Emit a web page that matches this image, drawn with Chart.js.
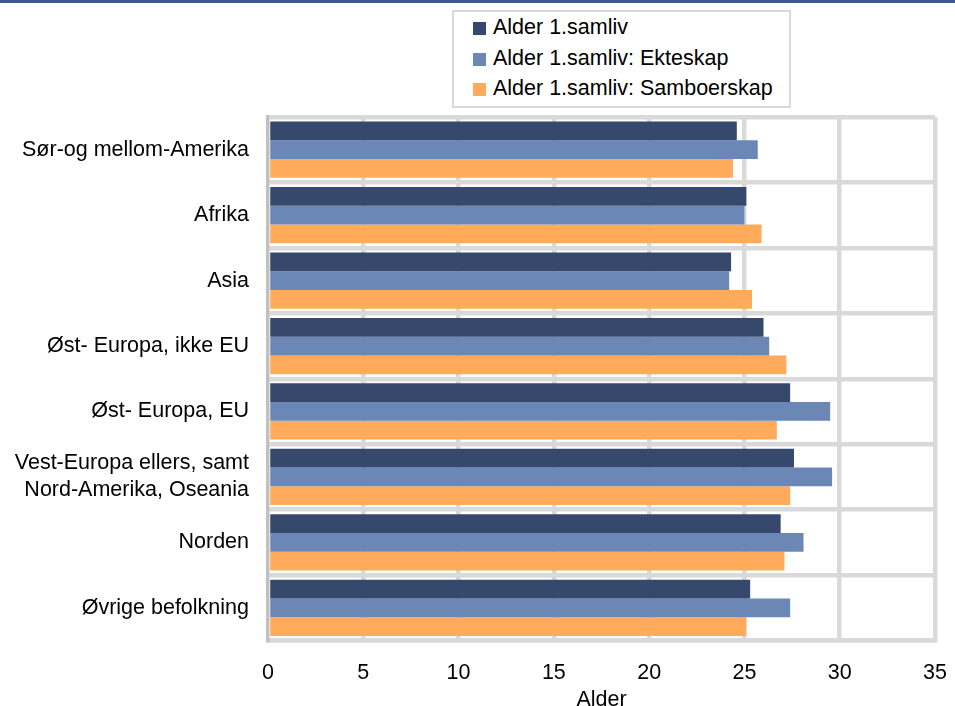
<!DOCTYPE html>
<html>
<head>
<meta charset="utf-8">
<script src="https://cdn.jsdelivr.net/npm/chart.js@4.4.1/dist/chart.umd.min.js"></script>
<style>
  body { margin: 0; background: #fff; }
  #wrap { position: relative; width: 955px; height: 706px; overflow: hidden; font-family: "Liberation Sans", Arial, sans-serif; }
  #topbar { position: absolute; left: 0; top: 0; width: 955px; height: 3px; background: #3d5a8c; z-index: 2; }
  #chart { position: absolute; left: 0; top: 0; }
  #legend { position: absolute; left: 452px; top: 10px; width: 339px; height: 98px; box-sizing: border-box;
            border: 2px solid #d9d9d9; background: #fff; z-index: 2; padding-left: 19px; }
  .item { height: 30.5px; line-height: 30.5px; font-size: 21.5px; color: #000; white-space: nowrap; }
  .box { display: inline-block; width: 13px; height: 13px; margin-right: 7px; vertical-align: -1px; }
</style>
</head>
<body>
<div id="wrap">
  <div id="topbar"></div>
  <canvas id="chart" width="955" height="706"></canvas>
  <div id="legend"></div>
</div>
<script>
console.log("chart script starting");

const categories = [
    'Sør-og mellom-Amerika',
    'Afrika',
    'Asia',
    'Øst- Europa, ikke EU',
    'Øst- Europa, EU',
    ['Vest-Europa ellers, samt', 'Nord-Amerika, Oseania'],
    'Norden',
    'Øvrige befolkning'
];

const seriesNames = ['Alder 1.samliv', 'Alder 1.samliv: Ekteskap', 'Alder 1.samliv: Samboerskap'];

const alderSamliv = [24.6, 25.1, 24.3, 26.0, 27.4, 27.6, 26.9, 25.3];
const alderEkteskap = [25.7, 25.0, 24.2, 26.3, 29.5, 29.6, 28.1, 27.4];
const alderSamboerskap = [24.4, 25.9, 25.4, 27.2, 26.7, 27.4, 27.1, 25.1];

const xTicks = [0, 5, 10, 15, 20, 25, 30, 35];

const colors = ['#36486c', '#6b87b6', '#ffab5b'];

const fontFamily = '"Liberation Sans", Arial, sans-serif';

function makeDataset(i, values) {
    return {
        label: seriesNames[i],
        data: values,
        backgroundColor: colors[i],
        borderWidth: 0,
        categoryPercentage: 0.86,
        barPercentage: 1.0
    };
}

const chartData = {
    labels: categories,
    datasets: [
        makeDataset(0, alderSamliv),
        makeDataset(1, alderEkteskap),
        makeDataset(2, alderSamboerskap)
    ]
};

// keep tick labels from pushing the plot area inwards
function noOverflow(scale) {
    scale.paddingLeft = 0;
    scale.paddingRight = 0;
    scale.paddingTop = 0;
    scale.paddingBottom = 0;
}

var ctx = document.getElementById('chart').getContext('2d');
var myChart = new Chart(ctx, {
    type: 'bar',
    data: chartData,
    options: {
        indexAxis: 'y',
        responsive: false,
        animation: false,
        layout: { padding: { top: 117, right: 20, bottom: 0, left: 0 } },
        plugins: {
            legend: { display: false },
            tooltip: { enabled: false }
        },
        scales: {
            x: {
                min: xTicks[0],
                max: xTicks[xTicks.length - 1],
                afterBuildTicks: scale => { scale.ticks = xTicks.map(v => ({ value: v })); },
                afterFit: scale => { scale.height = 65.5; noOverflow(scale); },
                grid: {
                    color: c => c.index === 0 ? 'rgba(0,0,0,0)' : '#d9d9d9',
                    lineWidth: 4.5,
                    drawTicks: false
                },
                border: { color: '#d9d9d9', width: 4.5 },
                ticks: {
                    color: '#000',
                    padding: 20,
                    font: { family: fontFamily, size: 21.5 }
                },
                title: {
                    display: true,
                    text: 'Alder',
                    color: '#000',
                    padding: { top: 0, bottom: -7 },
                    font: { family: fontFamily, size: 21.5 }
                }
            },
            y: {
                afterFit: scale => { scale.width = 268; noOverflow(scale); },
                grid: {
                    color: '#d9d9d9',
                    lineWidth: 4.5,
                    drawTicks: false
                },
                border: { color: '#c0c0c0', width: 3.5 },
                ticks: {
                    color: '#000',
                    padding: 19,
                    font: { family: fontFamily, size: 21.5, lineHeight: 1.27 }
                }
            }
        }
    }
});

// legend in a box, one entry per line, built from the datasets
const legendEl = document.getElementById('legend');
chartData.datasets.forEach(ds => {
    const row = document.createElement('div');
    row.className = 'item';
    const sw = document.createElement('span');
    sw.className = 'box';
    sw.style.background = ds.backgroundColor;
    row.appendChild(sw);
    row.appendChild(document.createTextNode(ds.label));
    legendEl.appendChild(row);
});

console.log("chart script loaded");
</script>
</body>
</html>
